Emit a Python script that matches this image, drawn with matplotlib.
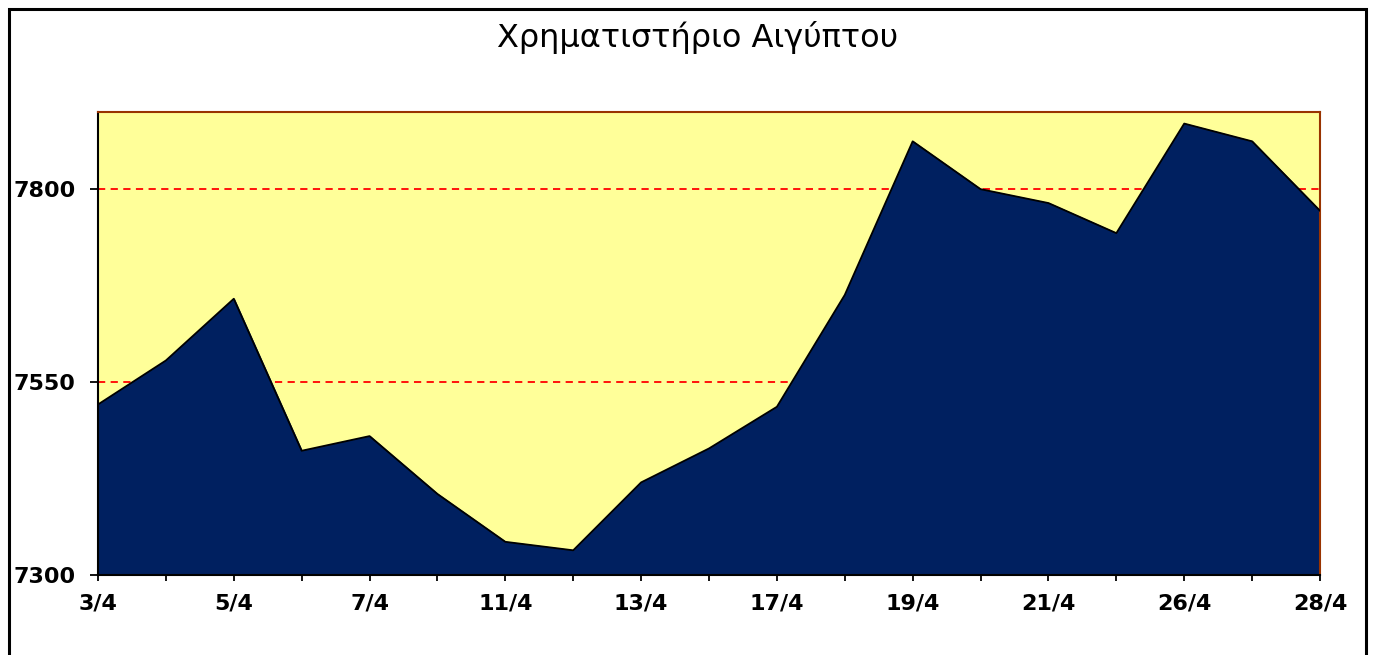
import matplotlib.pyplot as plt
from matplotlib.patches import Rectangle

dates = ['3/4', '4/4', '5/4', '6/4', '7/4', '10/4', '11/4', '12/4', '13/4',
         '14/4', '17/4', '18/4', '19/4', '20/4', '21/4', '24/4', '26/4',
         '27/4', '28/4']
values = [7521, 7578, 7658, 7461, 7480, 7405, 7343, 7332, 7420,
          7464, 7518, 7663, 7862, 7800, 7782, 7743, 7885, 7862, 7772]
y_ticks = [7300, 7550, 7800]

fig = plt.figure(figsize=(13.75, 6.55), dpi=100)
ax = fig.add_axes([98 / 1375, 1 - 575 / 655, (1320 - 98) / 1375, (575 - 112) / 655])

# outer chart frame
fig.patches.append(Rectangle((9 / 1375, -0.02), (1366 - 9) / 1375, 1 - 9 / 655 + 0.02,
                             transform=fig.transFigure, fill=False,
                             edgecolor='black', linewidth=2.2))

x = list(range(len(dates)))
ax.set_facecolor('#FFFF99')
ax.fill_between(x, 7300, values, color='#002060', zorder=2)
ax.plot(x, values, color='black', linewidth=1.3, zorder=3)

for v in y_ticks[1:]:
    ax.axhline(v, color='red', linestyle=(0, (4, 3)), linewidth=1.3, zorder=1)

ax.set_xlim(0, len(dates) - 1)
ax.set_ylim(7300, 7900)
ax.set_yticks(y_ticks)
ax.set_yticklabels([str(v) for v in y_ticks], fontfamily='DejaVu Sans',
                   fontweight='bold', fontsize=16)
ax.set_xticks(x)
ax.set_xticklabels([d if i % 2 == 0 else '' for i, d in enumerate(dates)],
                   fontfamily='DejaVu Sans', fontweight='bold', fontsize=16)
ax.tick_params(axis='both', direction='out', width=1.3, color='black')
ax.tick_params(axis='x', length=4, pad=9)
ax.tick_params(axis='y', length=6, pad=10)

ax.spines['left'].set_color('black')
ax.spines['bottom'].set_color('black')
ax.spines['left'].set_linewidth(1.5)
ax.spines['bottom'].set_linewidth(1.5)
ax.spines['top'].set_color('#993300')
ax.spines['right'].set_color('#993300')
ax.spines['top'].set_linewidth(1.5)
ax.spines['right'].set_linewidth(1.5)

fig.text(698 / 1375, 1 - 37 / 655, 'Χρηματιστήριο Αιγύπτου', ha='center', va='center',
         fontfamily='DejaVu Sans', fontsize=23)

fig.savefig('out.png', dpi=100)
